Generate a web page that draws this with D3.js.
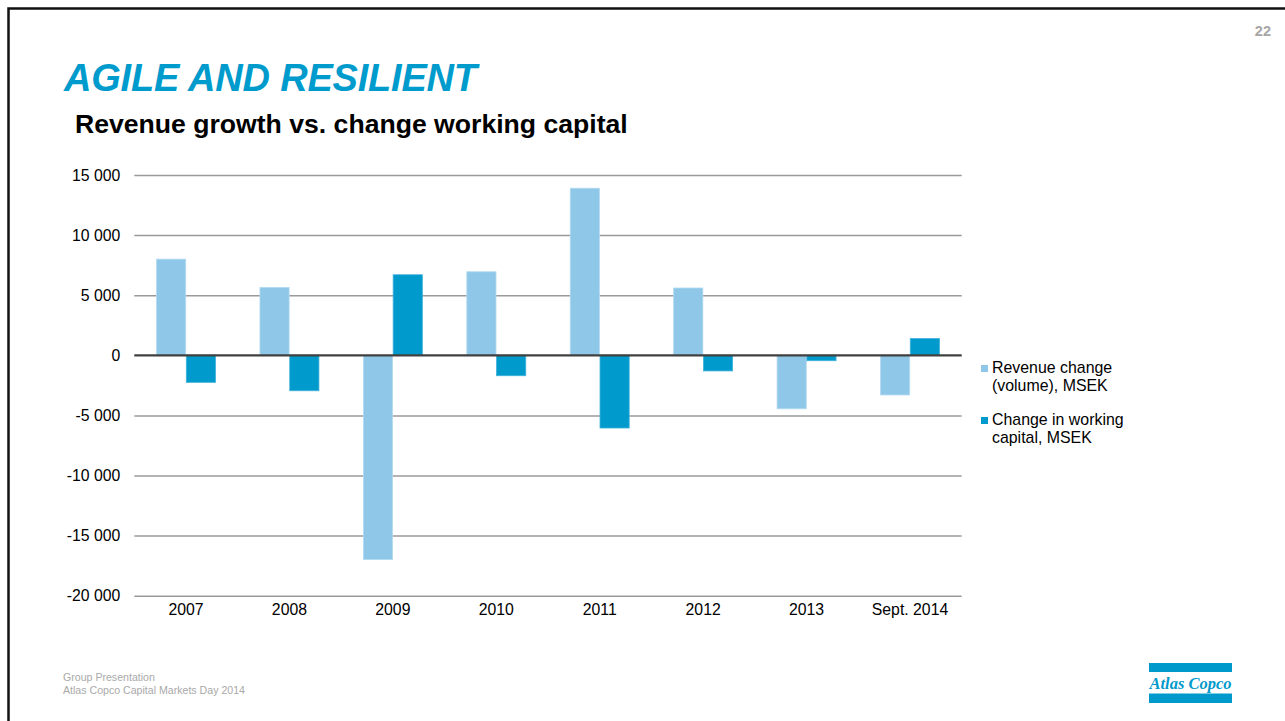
<!DOCTYPE html>
<html>
<head>
<meta charset="utf-8">
<script src="https://cdn.jsdelivr.net/npm/d3@7/dist/d3.min.js"></script>
<style>
  html, body { margin: 0; padding: 0; background: #fff; }
  svg { display: block; font-family: "Liberation Sans", Arial, sans-serif; }
</style>
</head>
<body>
<svg id="chart" width="1285" height="721"></svg>
<script>
// Yearly figures, MSEK
const categories = ["2007", "2008", "2009", "2010", "2011", "2012", "2013", "Sept. 2014"];
const revenueChange = [8000, 5650, -17000, 6950, 13900, 5600, -4450, -3300];
const workingCapital = [-2250, -2950, 6700, -1700, -6050, -1300, -450, 1400];
const seriesNames = ["Revenue change (volume), MSEK", "Change in working capital, MSEK"];
const legendLines = [["Revenue change", "(volume), MSEK"], ["Change in working", "capital, MSEK"]];
const yTicks = [15000, 10000, 5000, 0, -5000, -10000, -15000, -20000];

const colors = ["#8fc7e8", "#009acd"];
const edgeColors = ["#b3daf1", "#3fb2da"];

const svg = d3.select("#chart");

// Slide frame
svg.append("path")
  .attr("d", "M8.5,721V8.5H1285")
  .attr("fill", "none")
  .attr("stroke", "#111")
  .attr("stroke-width", 2.5);

// Page number
svg.append("text")
  .attr("x", 1271).attr("y", 36)
  .attr("text-anchor", "end")
  .attr("font-size", 14.5).attr("font-weight", "bold")
  .attr("fill", "#a6a6a6")
  .text("22");

// Headings
svg.append("text")
  .attr("x", 64).attr("y", 91)
  .attr("font-size", 38).attr("font-weight", "bold").attr("font-style", "italic")
  .attr("letter-spacing", -0.2)
  .attr("fill", "#009bcd")
  .text("AGILE AND RESILIENT");

svg.append("text")
  .attr("x", 75).attr("y", 133)
  .attr("font-size", 26.6).attr("font-weight", "bold")
  .attr("fill", "#000")
  .text("Revenue growth vs. change working capital");

// Scales
const plot = { left: 134.3, right: 961.7, top: 175, bottom: 595.7 };

const x0 = d3.scaleBand()
  .domain(categories)
  .range([plot.left, plot.right])
  .paddingInner(0.43)
  .paddingOuter(0.215);

const x1 = d3.scaleBand()
  .domain(seriesNames)
  .range([0, x0.bandwidth()])
  .paddingInner(0.02);

const y = d3.scaleLinear()
  .domain([-20000, 15000])
  .range([plot.bottom, plot.top]);

const locale = d3.formatLocale({ decimal: ",", thousands: " ", grouping: [3], currency: ["", ""], minus: "-" });
const fmt = locale.format(",d");

// Gridlines and y labels
const yAxis = svg.append("g")
  .attr("transform", `translate(${plot.left},0)`)
  .call(d3.axisLeft(y).tickValues(yTicks).tickFormat(fmt).tickSize(-(plot.right - plot.left)).tickPadding(14));
yAxis.select(".domain").remove();
yAxis.selectAll(".tick line")
  .attr("stroke", d => d === 0 ? "none" : "#9a9a9a")
  .attr("stroke-width", 1.5);
yAxis.selectAll(".tick text")
  .attr("font-size", 15.8)
  .attr("fill", "#000")
  .attr("font-family", "Liberation Sans, Arial, sans-serif");

// Bars
const rows = categories.map((c, i) => ({ cat: c, vals: [revenueChange[i], workingCapital[i]] }));

const groups = svg.append("g").selectAll("g")
  .data(rows)
  .join("g")
  .attr("transform", d => `translate(${x0(d.cat)},0)`);

groups.selectAll("rect")
  .data(d => d.vals.map((v, k) => ({ v, k })))
  .join("rect")
  .attr("x", d => x1(seriesNames[d.k]))
  .attr("width", x1.bandwidth())
  .attr("y", d => y(Math.max(0, d.v)))
  .attr("height", d => Math.abs(y(d.v) - y(0)))
  .attr("fill", d => colors[d.k])
  .attr("stroke", d => edgeColors[d.k])
  .attr("stroke-width", 0.8);

// Zero line on top of the bars
svg.append("line")
  .attr("x1", plot.left).attr("x2", plot.right)
  .attr("y1", y(0)).attr("y2", y(0))
  .attr("stroke", "#404040")
  .attr("stroke-width", 2.2);

// Category labels
const xAxis = svg.append("g")
  .attr("transform", `translate(0,${plot.bottom})`)
  .call(d3.axisBottom(x0).tickSize(0));
xAxis.select(".domain").remove();
xAxis.selectAll(".tick text")
  .attr("font-size", 15.8)
  .attr("fill", "#000")
  .attr("font-family", "Liberation Sans, Arial, sans-serif")
  .attr("y", 19.3)
  .attr("dy", 0);

// Legend
const legend = svg.append("g").attr("transform", "translate(981,0)");
const legendTop = [373, 425];
legendLines.forEach((lines, k) => {
  legend.append("rect")
    .attr("x", 0).attr("y", legendTop[k] - 8)
    .attr("width", 7).attr("height", 7)
    .attr("fill", colors[k]);
  const t = legend.append("text")
    .attr("x", 11).attr("y", legendTop[k])
    .attr("font-size", 15.9)
    .attr("fill", "#000");
  lines.forEach((ln, j) => {
    t.append("tspan").attr("x", 11).attr("dy", j === 0 ? 0 : 18).text(ln);
  });
});

// Footer
const footer = svg.append("text")
  .attr("x", 63).attr("y", 681)
  .attr("font-size", 10.6)
  .attr("fill", "#a9a9a9");
footer.append("tspan").attr("x", 63).text("Group Presentation");
footer.append("tspan").attr("x", 63).attr("dy", 13).text("Atlas Copco Capital Markets Day 2014");

// Logo
const logo = svg.append("g");
logo.append("rect").attr("x", 1149).attr("y", 663).attr("width", 83).attr("height", 9).attr("fill", "#0099cc");
logo.append("rect").attr("x", 1149).attr("y", 693.5).attr("width", 83).attr("height", 9.5).attr("fill", "#0099cc");
logo.append("text")
  .attr("x", 1190.5).attr("y", 688.5)
  .attr("text-anchor", "middle")
  .attr("font-family", "Liberation Serif, DejaVu Serif, serif")
  .attr("font-style", "italic").attr("font-weight", "bold")
  .attr("font-size", 16.5)
  .attr("textLength", 82).attr("lengthAdjust", "spacingAndGlyphs")
  .attr("fill", "#0099cc")
  .text("Atlas Copco");
</script>
</body>
</html>
